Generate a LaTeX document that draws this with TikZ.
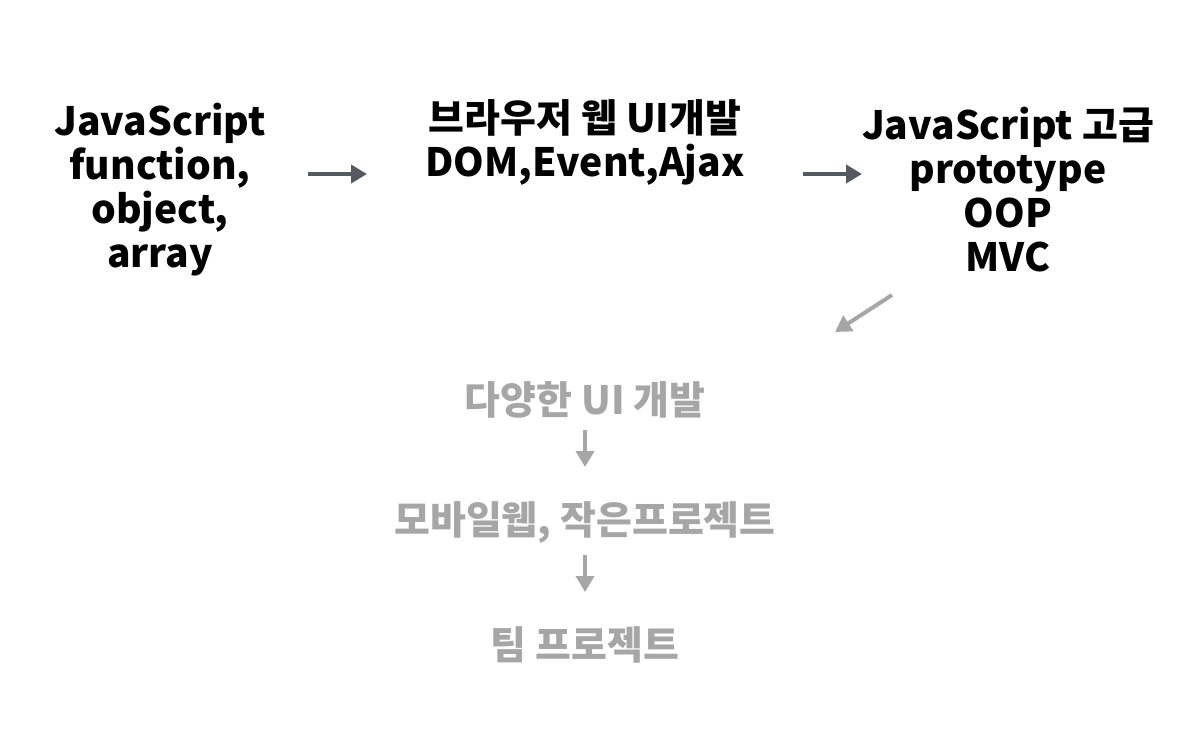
\documentclass[tikz,border=0pt]{standalone}
\usepackage{fontspec}
\setmainfont{Noto Sans CJK KR}[BoldFont={* Black}]
\usetikzlibrary{arrows.meta}
\definecolor{darkar}{HTML}{555A60}
\definecolor{lightg}{HTML}{A6A6A6}
\tikzset{
  txt/.style={font=\fontsize{39}{44}\selectfont\bfseries, align=center, inner sep=0pt},
  gtxt/.style={txt, text=lightg},
  darr/.style={line width=4pt, color=darkar, -{Triangle[length=16pt,width=18pt]}},
  garr/.style={line width=4pt, color=lightg, -{Triangle[length=16pt,width=18pt]}}
}
\begin{document}
\begin{tikzpicture}[x=1pt,y=-1pt]
\useasboundingbox[fill=white] (0,0) rectangle (1182,742);
\node[txt] (js) at (160,190) {JavaScript\\function,\\object,\\array};
\node[txt] (dom) at (585,142) {브라우저 웹 UI개발\\DOM,Event,Ajax};
\node[txt] (adv) at (1008,190) {JavaScript 고급\\prototype\\OOP\\MVC};
\coordinate (a1s) at (308,174); \coordinate (a1e) at (367,174);
\coordinate (a2s) at (803,174); \coordinate (a2e) at (862,174);
\draw[darr] (a1s) -- (a1e);
\draw[darr] (a2s) -- (a2e);
\coordinate (d1s) at (892,295); \coordinate (d1e) at (835,332);
\draw[garr] (d1s) -- (d1e);
\node[gtxt] (ui) at (585,400) {다양한 UI 개발};
\node[gtxt] (mob) at (585,522) {모바일웹, 작은프로젝트};
\node[gtxt] (team) at (585,645) {팀 프로젝트};
\draw[garr] (585,430) -- (585,467);
\draw[garr] (585,555) -- (585,592);
\end{tikzpicture}
\end{document}
